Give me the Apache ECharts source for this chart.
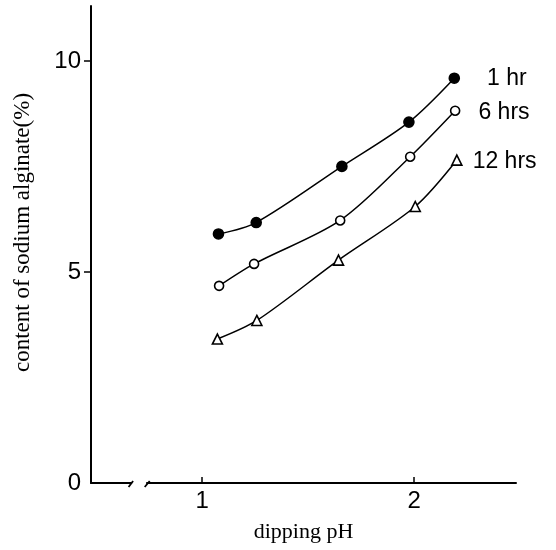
<!DOCTYPE html>
<html><head><meta charset="utf-8">
<script src="https://cdn.jsdelivr.net/npm/echarts@6/dist/echarts.min.js"></script>
<style>html,body{margin:0;padding:0;background:#fff}#c{width:556px;height:550px}</style>
</head><body><div id="c"></div>
<script>
// ---- data ----
const seriesNames = ['1 hr', '6 hrs', '12 hrs'];
const x1hr  = [1.077, 1.255, 1.659, 1.975, 2.189];
const y1hr  = [5.90, 6.17, 7.50, 8.55, 9.59];
const x6hrs = [1.080, 1.245, 1.651, 1.981, 2.193];
const y6hrs = [4.67, 5.19, 6.22, 7.73, 8.82];
const x12hrs = [1.072, 1.258, 1.643, 2.005, 2.201];
const y12hrs = [3.41, 3.85, 5.28, 6.55, 7.65];
const xTickValues = [1, 2];
const yLabelValues = [0, 5, 10];
const yTickValues = [5, 10];
const xName = 'dipping pH';
const yName = 'content of sodium alginate(%)';
const xMin = 0.476, xMax = 2.48, yMin = 0, yMax = 11.3;
const xBreak = [0.665, 0.741];

// ---- styles ----
const styles = [
  {symbol: 'circle', size: 10, fill: '#000', labelDist: 27, dy: 0},
  {symbol: 'circle', size: 9, fill: '#fff', labelDist: 18, dy: 2},
  {symbol: 'triangle', size: 10, fill: '#fff', labelDist: 10, dy: 2}
];
const xsAll = [x1hr, x6hrs, x12hrs];
const ysAll = [y1hr, y6hrs, y12hrs];

const chart = echarts.init(document.getElementById('c'), null, {renderer: 'canvas'});
const series = seriesNames.map((name, s) => {
  const st = styles[s];
  const xs = xsAll[s], ys = ysAll[s];
  return {
    name: name,
    type: 'line',
    smooth: 0.3,
    symbol: st.symbol,
    symbolSize: st.size,
    showAllSymbol: true,
    lineStyle: {color: '#000', width: 1.5},
    itemStyle: {color: st.fill, borderColor: '#000', borderWidth: 1.6},
    emphasis: {disabled: true},
    z: 3,
    data: xs.map((x, i) => {
      const d = {value: [x, ys[i]]};
      if (i === xs.length - 1) {
        d.label = {
          show: true, position: 'right', distance: st.labelDist, offset: [0, st.dy],
          formatter: name, color: '#000', fontSize: 23,
          fontFamily: '"Liberation Sans", Arial, sans-serif'
        };
      }
      return d;
    })
  };
});

const tickFont = {color: '#000', fontSize: 24, fontFamily: '"Liberation Sans", Arial, sans-serif'};
const serif = '"Liberation Serif", "Times New Roman", serif';

chart.setOption({
  animation: false,
  backgroundColor: '#fff',
  grid: {left: 91, right: 40, top: 6, bottom: 67, containLabel: false, outerBoundsMode: 'none'},
  xAxis: {
    type: 'value', min: xMin, max: xMax,
    name: xName, nameLocation: 'middle', nameGap: 38,
    nameTextStyle: {color: '#000', fontSize: 22, fontFamily: serif},
    axisLine: {show: true, lineStyle: {color: '#000', width: 2}},
    axisTick: {show: true, inside: true, length: 6, customValues: xTickValues, lineStyle: {color: '#000', width: 1.5}},
    axisLabel: Object.assign({customValues: xTickValues, margin: 6}, tickFont),
    splitLine: {show: false}
  },
  yAxis: {
    type: 'value', min: yMin, max: yMax,
    name: yName, nameLocation: 'middle', nameGap: 57,
    nameTextStyle: {color: '#000', fontSize: 23, fontFamily: serif, padding: [0, 0, 0, 24]},
    axisLine: {show: true, lineStyle: {color: '#000', width: 2}},
    axisTick: {show: true, inside: false, length: 7, customValues: yTickValues, lineStyle: {color: '#000', width: 1.5}},
    axisLabel: Object.assign({customValues: yLabelValues, margin: 10}, tickFont),
    splitLine: {show: false}
  },
  series: series
});

// axis break marks on the x axis
const pA = chart.convertToPixel({xAxisIndex: 0, yAxisIndex: 0}, [xBreak[0], 0]);
const pB = chart.convertToPixel({xAxisIndex: 0, yAxisIndex: 0}, [xBreak[1], 0]);
chart.setOption({
  graphic: [
    {type: 'rect', z: 100, shape: {x: pA[0] + 1, y: pA[1] - 3, width: pB[0] - pA[0] - 2, height: 6}, style: {fill: '#fff'}},
    {type: 'line', z: 101, shape: {x1: pA[0] - 2.5, y1: pA[1] + 4, x2: pA[0] + 2, y2: pA[1] - 2}, style: {stroke: '#000', lineWidth: 1.8}},
    {type: 'line', z: 101, shape: {x1: pB[0] - 2.5, y1: pB[1] + 4, x2: pB[0] + 2.5, y2: pB[1] - 2}, style: {stroke: '#000', lineWidth: 1.8}}
  ]
});
</script>
</body></html>
